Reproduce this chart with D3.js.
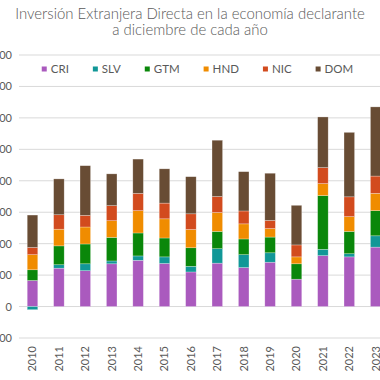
<!DOCTYPE html>
<html><head><meta charset="utf-8">
<script src="https://cdn.jsdelivr.net/npm/d3@7"></script>
<style>html,body{margin:0;padding:0;background:#fff;overflow:hidden}svg{display:block}</style>
</head><body>
<svg id="c" width="380" height="380"></svg>
<script>
const years = ["2010","2011","2012","2013","2014","2015","2016","2017","2018","2019","2020","2021","2022","2023"];
const seriesNames = ["CRI","SLV","GTM","HND","NIC","DOM"];
const CRI = [830,1220,1140,1360,1470,1370,1100,1380,1240,1410,870,1620,1580,1890];
const SLV = [-100,110,220,90,140,210,180,460,410,300,0,200,100,360];
const GTM = [340,600,630,750,730,600,590,550,500,500,490,1710,710,800];
const HND = [480,530,540,530,710,610,580,600,480,270,220,380,470,550];
const NIC = [230,460,370,480,550,500,500,510,410,260,380,510,630,550];
const DOM = [1030,1140,1580,1010,1090,1090,1180,1790,1250,1500,1260,1610,2050,2200];
const yTicks = [-1000,0,1000,2000,3000,4000,5000,6000,7000,8000];
const colors = ["#aa5abe","#119797","#0a870a","#f08c00","#d24b1e","#684c34"];
const titleLines = ["Inversión Extranjera Directa en la economía declarante","a diciembre de cada año"];

const rows = years.map((y,i)=>({year:y,CRI:CRI[i],SLV:SLV[i],GTM:GTM[i],HND:HND[i],NIC:NIC[i],DOM:DOM[i]}));
const svg = d3.select("#c");
const font = "Lato, 'Open Sans', sans-serif";
const grey = "#595959";

const x = d3.scaleBand().domain(years).range([19.3, 388.9]).paddingInner(0.6).paddingOuter(0.3);
const y = d3.scaleLinear().domain([-1000, 8000]).range([338, 55]);
const color = d3.scaleOrdinal().domain(seriesNames).range(colors);

// grid
svg.append("g").selectAll("line").data(yTicks).join("line")
  .attr("x1",19).attr("x2",380).attr("y1",d=>y(d)).attr("y2",d=>y(d))
  .attr("stroke","#d9d9d9").attr("stroke-width",1);

// y axis labels
const yAxis = d3.axisLeft(y).tickValues(yTicks).tickFormat(d3.format(",")).tickSize(0).tickPadding(0);
const ya = svg.append("g").attr("transform","translate(12,0)").call(yAxis);
ya.select(".domain").remove();
ya.selectAll("text").attr("fill",grey).style("font-family",font).style("font-size","11px");

// stacked bars
const stack = d3.stack().keys(seriesNames).offset(d3.stackOffsetDiverging);
const layers = stack(rows);
svg.append("g").selectAll("g").data(layers).join("g").attr("fill",d=>color(d.key))
  .selectAll("rect").data(d=>d).join("rect")
  .attr("x",d=>x(d.data.year)).attr("width",x.bandwidth())
  .attr("y",d=>y(Math.max(d[0],d[1]))).attr("height",d=>Math.abs(y(d[0])-y(d[1])))
  .attr("stroke","rgba(255,255,255,0.45)").attr("stroke-width",0.6);

// x axis labels
const xAxis = d3.axisBottom(x).tickSize(0).tickPadding(0);
const xa = svg.append("g").attr("transform","translate(0,346)").call(xAxis);
xa.select(".domain").remove();
xa.selectAll("text").attr("fill",grey).style("font-family",font).style("font-size","11px")
  .attr("text-anchor","end").attr("transform","rotate(-90)").attr("x",0).attr("y",0).attr("dy","0.35em");

// title
const t = svg.append("g");
const t1 = t.append("text").attr("x",190).attr("y",18.5).attr("text-anchor","middle").attr("fill",grey)
  .style("font-family",font).style("font-size","16px").style("font-weight",300).text(titleLines[0]);
const w1 = t1.node().getComputedTextLength();
const fs = 16*350/w1;
t1.style("font-size",fs+"px");
t.append("text").attr("x",190).attr("y",35).attr("text-anchor","middle").attr("fill",grey)
  .style("font-family",font).style("font-size",fs+"px").style("font-weight",300).text(titleLines[1]);

// legend
const lg = svg.append("g");
const items = lg.selectAll("g").data(seriesNames).join("g");
items.append("rect").attr("width",5).attr("height",5).attr("y",66.5).attr("fill",d=>color(d));
items.append("text").attr("x",9).attr("y",72.5).attr("fill",grey)
  .style("font-family",font).style("font-size","11.5px").text(d=>d);
let cx = 0;
items.each(function(){
  const g = d3.select(this);
  g.attr("transform",`translate(${cx},0)`);
  cx += 9 + g.select("text").node().getComputedTextLength() + 24;
});
const total = cx - 24;
lg.attr("transform",`translate(${197.5 - total/2},0)`);
</script>
</body></html>
